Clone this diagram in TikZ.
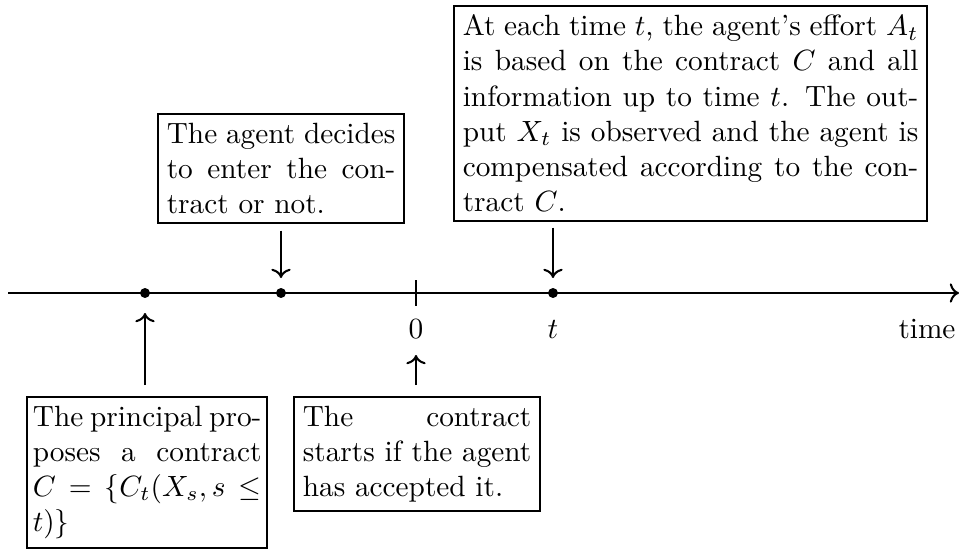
\documentclass[tikz,border=0pt]{standalone}
\usetikzlibrary{arrows.meta}
\begin{document}
\begin{tikzpicture}[x=0.3413pt,y=-0.3413pt,line width=0.7pt,
  box/.style={draw,align=justify,anchor=north west,inner xsep=3pt,inner ysep=3pt},
  dot/.style={circle,fill,inner sep=0pt,minimum size=3.4pt},
  lbl/.style={anchor=base,inner sep=0pt}]
\useasboundingbox (0,0) rectangle (959,552);
% axis
\coordinate (L) at (8,293);
\coordinate (R) at (959,293);
\draw[->] (L) -- (R);
\node[dot] (d1) at (145,293) {};
\node[dot] (d2) at (281,293) {};
\node[dot] (d4) at (553,293) {};
\coordinate (zt) at (416,280);
\coordinate (zb) at (416,306);
\draw (zt) -- (zb);
\node[lbl] (zero) at (416,338) {$0$};
\node[lbl] (tl) at (553,338) {$t$};
\node[lbl] (time) at (927,338) {time};
% boxes
\node[box,text width=78pt] (ag) at (157,113) {The agent decides to enter the contract or not.};
\node[box,text width=155.5pt] (tr) at (453,5) {At each time $t$, the agent's effort $A_t$ is based on the contract $C$ and all information up to time $t$. The output $X_t$ is observed and the agent is compensated according to the contract $C$.};
\node[box,text width=78pt,inner xsep=2pt] (pr) at (26,396) {The principal proposes a contract $C=\{C_t(X_s,s\leq t)\}$};
\node[box,text width=78pt] (ct) at (293,396) {The contract starts if the agent has accepted it.};
% arrow tips
\coordinate (a2) at (281,278);
\coordinate (a4) at (553,278);
\coordinate (a1) at (145,313);
\coordinate (a0) at (416,355);
\draw[->,shorten <=2.4pt] (ag.south -| a2) -- (a2);
\draw[->,shorten <=2pt] (tr.south -| a4) -- (a4);
\draw[->,shorten <=3.75pt] (pr.north -| a1) -- (a1);
\draw[->,shorten <=3.75pt] (ct.north -| a0) -- (a0);
\end{tikzpicture}
\end{document}
